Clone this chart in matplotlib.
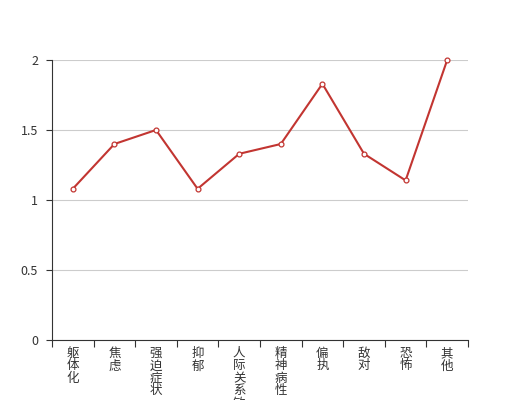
import matplotlib.pyplot as plt
from matplotlib.ticker import FuncFormatter

plt.rcParams['font.family'] = ['Noto Sans CJK SC', 'DejaVu Sans']

# Data
categories = ['躯体化', '焦虑', '强迫症状', '抑郁', '人际关系敏感', '精神病性', '偏执', '敌对', '恐怖', '其他']
values = [1.08, 1.4, 1.5, 1.08, 1.33, 1.4, 1.83, 1.33, 1.14, 2.0]
y_ticks = [0, 0.5, 1, 1.5, 2]

LINE_COLOR = '#c23531'
TEXT_COLOR = '#333333'
AXIS_COLOR = '#333333'
GRID_COLOR = '#cccccc'

fig = plt.figure(figsize=(5.2, 4.0), dpi=100)
ax = fig.add_axes([0.1, 0.15, 0.8, 0.7])

x = list(range(len(categories)))
ax.plot(x, values, color=LINE_COLOR, linewidth=1.5, marker='o', markersize=3.5,
        markerfacecolor='white', markeredgecolor=LINE_COLOR, markeredgewidth=0.9,
        zorder=5, clip_on=False)

ax.set_xlim(-0.5, len(categories) - 0.5)
ax.set_ylim(0, 2)

# y axis
ax.set_yticks(y_ticks)
ax.yaxis.set_major_formatter(FuncFormatter(lambda v, p: f"{v:g}"))
ax.tick_params(axis='y', length=4, width=0.8, color=AXIS_COLOR, labelcolor=TEXT_COLOR,
               labelsize=9, pad=6)
ax.grid(axis='y', color=GRID_COLOR, linewidth=0.8)
ax.set_axisbelow(True)

# x axis: ticks on category boundaries, labels stacked vertically
ax.set_xticks([i - 0.5 for i in range(len(categories) + 1)])
ax.set_xticklabels([])
ax.set_xticks(x, minor=True)
ax.set_xticklabels(['\n'.join(c) for c in categories], minor=True)
ax.tick_params(axis='x', which='major', length=5, width=0.8, color=AXIS_COLOR)
ax.tick_params(axis='x', which='minor', length=0, labelcolor=TEXT_COLOR, labelsize=9, pad=5)
for lbl in ax.get_xticklabels(minor=True):
    lbl.set_linespacing(0.95)
    lbl.set_verticalalignment('top')

for side in ['top', 'right']:
    ax.spines[side].set_visible(False)
for side in ['left', 'bottom']:
    ax.spines[side].set_color(AXIS_COLOR)
    ax.spines[side].set_linewidth(0.8)

fig.savefig('out.png', dpi=100)
